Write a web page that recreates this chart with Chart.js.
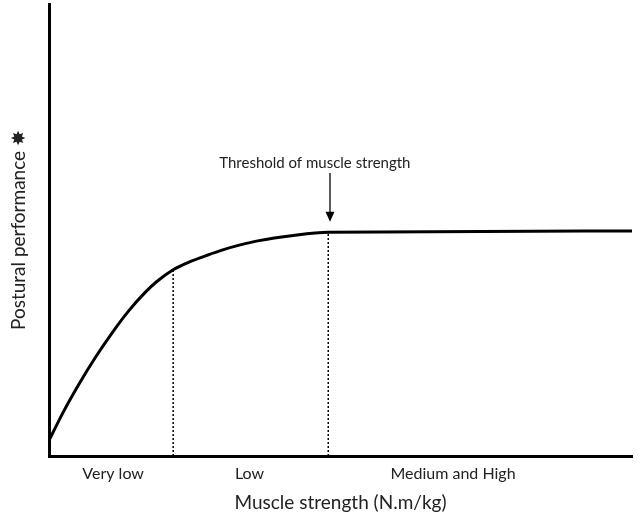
<!DOCTYPE html>
<html><head><meta charset="utf-8">
<script src="https://cdn.jsdelivr.net/npm/chart.js@4/dist/chart.umd.min.js"></script>
<style>html,body{margin:0;padding:0;background:#fff}#wrap{width:638px;height:523px}</style>
</head><body><div id="wrap"><canvas id="c"></canvas></div>
<script>
// Curve: postural performance vs muscle strength (conceptual units 0-100)
const curveX = [0, 2.2, 5.1, 8.0, 10.8, 13.6, 16.5, 18.5, 21.3, 24.2, 27.1, 29.8, 32.8, 35.8, 41.9, 47.9, 100];
const curveY = [3.4, 9.1, 15.8, 21.9, 27.2, 32.0, 36.2, 38.6, 41.2, 43.0, 44.4, 45.6, 46.7, 47.6, 48.8, 49.5, 49.8];
// Dotted boundaries between strength categories
const thresholdX = [21.3, 47.9];
const thresholdY = [41.2, 49.5];
// Category labels on the x axis
const categoryLabels = ['Very low', 'Low', 'Medium and High'];
const categoryPositions = [11.0, 34.4, 69.3];
// Annotation
const annotationText = 'Threshold of muscle strength';
const annotationPos = [45.6, 63.8];
const arrowFrom = [48.2, 62.6];
const arrowTo = [48.2, 51.8];

const FONT = 'Lato, "Open Sans", sans-serif';
const TXT = '#222';

const datasets = [{
  data: curveX.map((x, i) => ({x, y: curveY[i]})),
  borderColor: '#000', borderWidth: 3, pointRadius: 0,
  cubicInterpolationMode: 'monotone', fill: false
}];
thresholdX.forEach((tx, i) => {
  datasets.push({
    data: [{x: tx, y: 0}, {x: tx, y: thresholdY[i]}],
    borderColor: '#000', borderWidth: 1.5, borderDash: [2, 2], pointRadius: 0, fill: false
  });
});

const annotate = {
  id: 'annotate',
  afterDatasetsDraw(chart) {
    const {ctx, scales: {x, y}} = chart;
    ctx.save();
    ctx.fillStyle = TXT;
    ctx.font = '15px ' + FONT;
    ctx.textAlign = 'center';
    ctx.textBaseline = 'alphabetic';
    ctx.fillText(annotationText, x.getPixelForValue(annotationPos[0]), y.getPixelForValue(annotationPos[1]));
    const ax = x.getPixelForValue(arrowFrom[0]);
    const y1 = y.getPixelForValue(arrowFrom[1]);
    const y2 = y.getPixelForValue(arrowTo[1]);
    ctx.strokeStyle = '#000'; ctx.fillStyle = '#000'; ctx.lineWidth = 1.3;
    ctx.beginPath(); ctx.moveTo(ax, y1); ctx.lineTo(ax, y2 - 9); ctx.stroke();
    ctx.beginPath(); ctx.moveTo(ax - 4.5, y2 - 10); ctx.lineTo(ax + 4.5, y2 - 10); ctx.lineTo(ax, y2); ctx.closePath(); ctx.fill();
    ctx.restore();
  }
};

new Chart(document.getElementById('c'), {
  type: 'line',
  data: {datasets},
  plugins: [annotate],
  options: {
    responsive: true, maintainAspectRatio: false, animation: false,
    layout: {padding: {left: 0, top: 4, right: 6, bottom: 0}},
    plugins: {legend: {display: false}, tooltip: {enabled: false}},
    scales: {
      x: {
        type: 'linear', min: 0, max: 100,
        grid: {display: false, drawTicks: false},
        border: {display: true, color: '#000', width: 3},
        afterBuildTicks: s => { s.ticks = categoryPositions.map(v => ({value: v})); },
        afterFit: s => { s.height = 67; },
        ticks: {
          autoSkip: false, maxRotation: 0, padding: 8, color: TXT,
          font: {family: FONT, size: 16},
          callback: (v, i) => categoryLabels[i]
        },
        title: {display: true, text: 'Muscle strength (N.m/kg)', color: TXT,
          font: {family: FONT, size: 19}, padding: {top: 0, bottom: 9}}
      },
      y: {
        type: 'linear', min: 0, max: 100,
        grid: {display: false, drawTicks: false},
        border: {display: true, color: '#000', width: 3},
        ticks: {display: false},
        afterFit: s => { s.width = 49; },
        title: {display: true, text: 'Postural performance ✸', color: TXT,
          font: {family: FONT, size: 19}, padding: {top: 7, bottom: 0}}
      }
    }
  }
});
</script>
</body></html>
